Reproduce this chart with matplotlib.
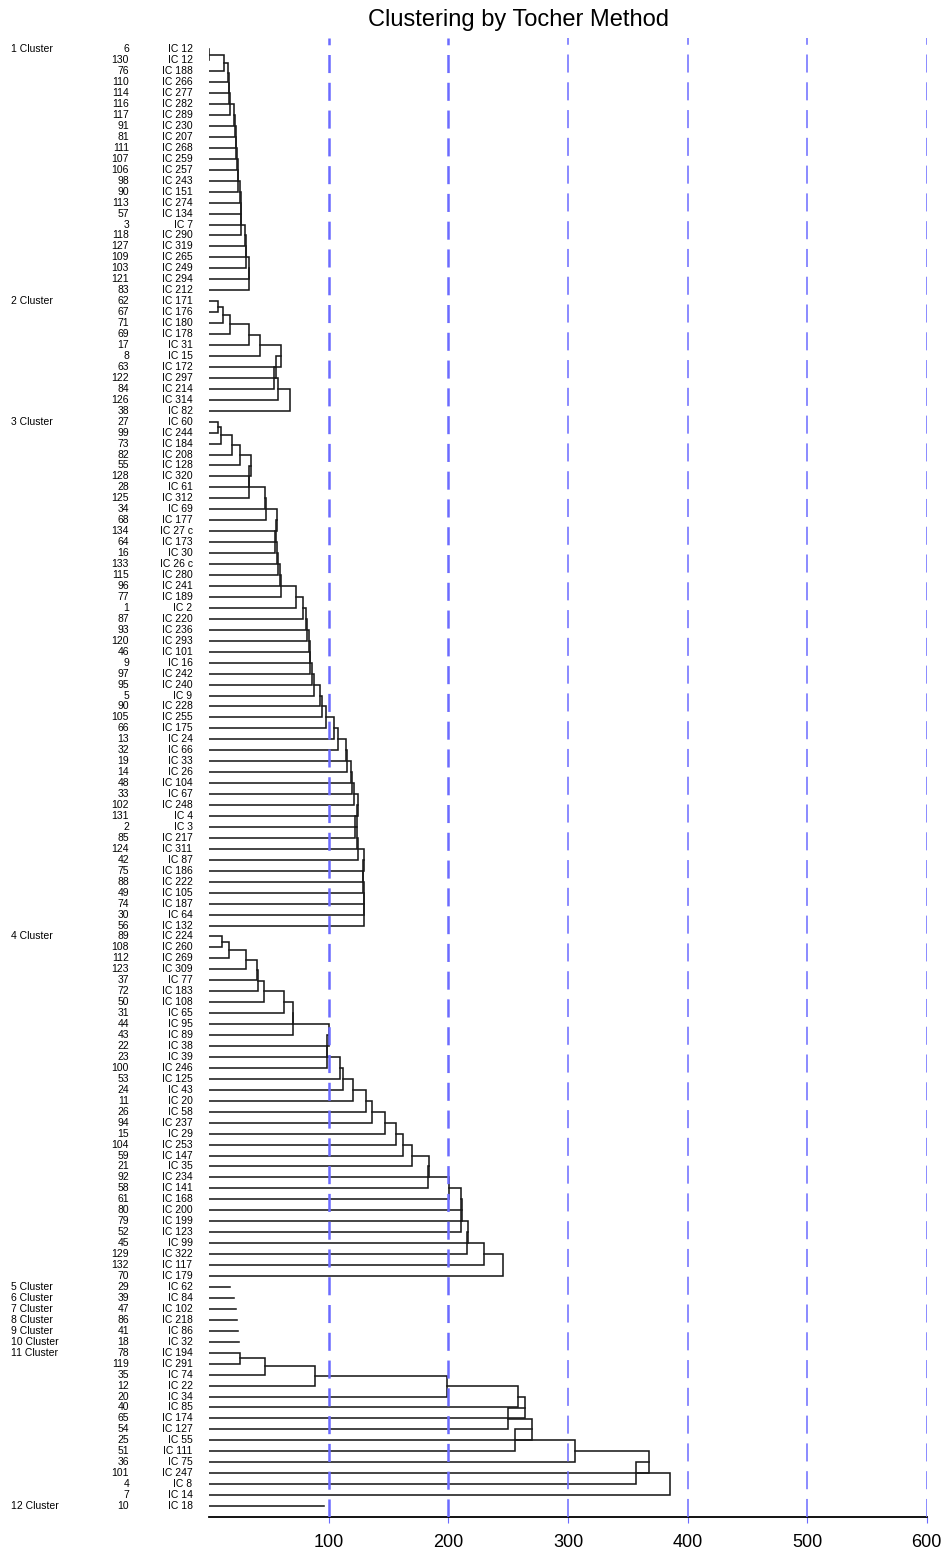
import matplotlib
matplotlib.use("Agg")
import matplotlib.pyplot as plt
import matplotlib.transforms as mtransforms

plt.rcParams['font.family'] = ['Liberation Sans Narrow', 'Liberation Sans', 'DejaVu Sans']
plt.rcParams['lines.scale_dashes'] = False

# cluster members: genotype number, accession name, join height (Tocher distance)
c1_ids = [6, 130, 76, 110, 114, 116, 117, 91, 81, 111, 107, 106, 98, 90, 113, 57, 3, 118, 127, 109, 103, 121, 83]
c1_names = ["IC 12", "IC 12", "IC 188", "IC 266", "IC 277", "IC 282", "IC 289", "IC 230", "IC 207", "IC 268",
            "IC 259", "IC 257", "IC 243", "IC 151", "IC 274", "IC 134", "IC 7", "IC 290", "IC 319", "IC 265",
            "IC 249", "IC 294", "IC 212"]
c1_heights = [0, 12.3, 15.8, 16.6, 16.6, 17.2, 20.8, 21.4, 22.0, 22.2, 22.8, 23.6, 24.4, 25.6, 26.1, 26.4,
              26.4, 30.0, 30.5, 31.0, 33.3, 33.3]

c2_ids = [62, 67, 71, 69, 17, 8, 63, 122, 84, 126, 38]
c2_names = ["IC 171", "IC 176", "IC 180", "IC 178", "IC 31", "IC 15", "IC 172", "IC 297", "IC 214", "IC 314", "IC 82"]
c2_heights = [7.5, 11.1, 17.2, 33.3, 42.2, 60.3, 55.6, 54.2, 57.5, 67.2]

c3_ids = [27, 99, 73, 82, 55, 128, 28, 125, 34, 68, 134, 64, 16, 133, 115, 96, 77, 1, 87, 93,
          120, 46, 9, 97, 95, 5, 90, 105, 66, 13, 32, 19, 14, 48, 33, 102, 131, 2, 85, 124,
          42, 75, 88, 49, 74, 30, 56]
c3_names = ["IC 60", "IC 244", "IC 184", "IC 208", "IC 128", "IC 320", "IC 61", "IC 312", "IC 69", "IC 177",
            "IC 27 c", "IC 173", "IC 30", "IC 26 c", "IC 280", "IC 241", "IC 189", "IC 2", "IC 220", "IC 236",
            "IC 293", "IC 101", "IC 16", "IC 242", "IC 240", "IC 9", "IC 228", "IC 255", "IC 175", "IC 24",
            "IC 66", "IC 33", "IC 26", "IC 104", "IC 67", "IC 248", "IC 4", "IC 3", "IC 217", "IC 311",
            "IC 87", "IC 186", "IC 222", "IC 105", "IC 187", "IC 64", "IC 132"]
c3_heights = [7.5, 9.7, 18.6, 25.6, 34.5, 33.3, 33.0, 46.4, 47.2, 57.0, 56.1, 55.0, 56.4, 57.8, 59.5, 59.7,
              72.2, 78.3, 80.6, 81.7, 83.1, 83.9, 84.5, 86.1, 87.5, 92.8, 93.9, 98.0, 104.7, 108.0, 114.5,
              115.0, 118.6, 119.5, 121.4, 124.2, 123.3, 122.2, 123.3, 124.2, 129.2, 128.9, 128.9, 129.2,
              129.7, 129.7]

c4_ids = [89, 108, 112, 123, 37, 72, 50, 31, 44, 43, 22, 23, 100, 53, 24, 11, 26, 94, 15, 104,
          59, 21, 92, 58, 61, 80, 79, 52, 45, 129, 132, 70]
c4_names = ["IC 224", "IC 260", "IC 269", "IC 309", "IC 77", "IC 183", "IC 108", "IC 65", "IC 95", "IC 89",
            "IC 38", "IC 39", "IC 246", "IC 125", "IC 43", "IC 20", "IC 58", "IC 237", "IC 29", "IC 253",
            "IC 147", "IC 35", "IC 234", "IC 141", "IC 168", "IC 200", "IC 199", "IC 123", "IC 99", "IC 322",
            "IC 117", "IC 179"]
c4_heights = [10.3, 16.7, 31.1, 40.0, 40.8, 45.8, 62.5, 70.0, 70.0, 100.0, 98.6, 98.6, 109.7, 111.7, 120.0,
              131.4, 136.1, 146.7, 156.1, 162.2, 169.5, 183.9, 182.5, 200.3, 210.6, 211.7, 210.8, 216.4,
              215.6, 229.7, 245.6]

# clusters 5 to 10 are single genotypes
single_ids = [29, 39, 47, 86, 41, 18]
single_names = ["IC 62", "IC 84", "IC 102", "IC 218", "IC 86", "IC 32"]
single_heights = [17.2, 20.8, 22.2, 22.8, 23.6, 25.0]

c11_ids = [78, 119, 35, 12, 20, 40, 65, 54, 25, 51, 36, 101, 4, 7]
c11_names = ["IC 194", "IC 291", "IC 74", "IC 22", "IC 34", "IC 85", "IC 174", "IC 127", "IC 55", "IC 111",
             "IC 75", "IC 247", "IC 8", "IC 14"]
c11_heights = [26.0, 47.0, 88.0, 199.0, 258.0, 264.0, 250.0, 270.0, 256.0, 306.0, 368.0, 357.0, 385.0]

c12_ids = [10]
c12_names = ["IC 18"]
c12_heights = [95.6]

ticks = [100, 200, 300, 400, 500, 600]

W, H = 948, 1555
fig = plt.figure(figsize=(W / 100, H / 100), dpi=100)
ax = fig.add_axes([209.3 / W, 38 / H, (926.7 - 209.3) / W, (1516.7 - 38) / H])
ax.set_xlim(0, 600)
ax.set_ylim(134, -1)

line_kw = dict(color='#1a1a1a', lw=1.15, solid_joinstyle='miter', zorder=2)


def draw_chain(rows, heights):
    if len(rows) == 1:
        ax.plot([0, heights[0]], [rows[0], rows[0]], **line_kw)
        return
    xc, yc = 0, rows[0]
    for r, h in zip(rows[1:], heights):
        ax.plot([xc, h, h, 0], [yc, yc, r, r], **line_kw)
        xc, yc = h, (yc + r) / 2


groups = [("1 Cluster", c1_ids, c1_names, c1_heights),
          ("2 Cluster", c2_ids, c2_names, c2_heights),
          ("3 Cluster", c3_ids, c3_names, c3_heights),
          ("4 Cluster", c4_ids, c4_names, c4_heights)]
for k in range(len(single_ids)):
    groups.append(("%d Cluster" % (5 + k), [single_ids[k]], [single_names[k]], [single_heights[k]]))
groups.append(("11 Cluster", c11_ids, c11_names, c11_heights))
groups.append(("12 Cluster", c12_ids, c12_names, c12_heights))

trans = mtransforms.blended_transform_factory(fig.transFigure, ax.transData)
row = 0
for label, ids, names, heights in groups:
    rows = list(range(row, row + len(ids)))
    draw_chain(rows, heights)
    ax.text(11 / W, row, label, transform=trans, ha='left', va='center', fontsize=7.5, clip_on=False)
    for r, gid, name in zip(rows, ids, names):
        ax.text(129 / W, r, str(gid), transform=trans, ha='right', va='center', fontsize=7.5, clip_on=False)
        ax.text(192.5 / W, r, name, transform=trans, ha='right', va='center', fontsize=7.5, clip_on=False)
    row += len(ids)

for t in ticks:
    lw = 1.8 if t <= 200 else 1.1
    ax.axvline(t, color='#6b6bff', lw=lw, dashes=(13, 7), zorder=3)

for s in ['top', 'right', 'left']:
    ax.spines[s].set_visible(False)
ax.spines['bottom'].set_linewidth(1.3)
ax.set_yticks([])
ax.set_xticks(ticks)
ax.set_xticklabels([str(t) for t in ticks])
ax.tick_params(axis='x', length=4, color='#6b6bff', labelsize=13, pad=8)

fig.text(518 / W, 1 - 20 / H, "Clustering by Tocher Method", ha='center', va='center', fontsize=17)

fig.savefig('out.png', dpi=100)
